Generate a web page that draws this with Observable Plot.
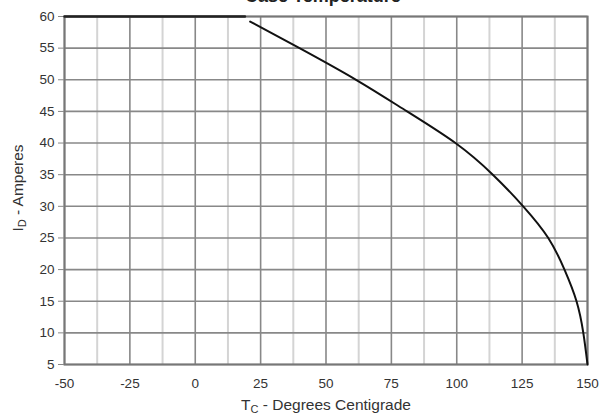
<!DOCTYPE html>
<html><head><meta charset="utf-8">
<script src="https://cdn.jsdelivr.net/npm/d3@7"></script>
<script src="https://cdn.jsdelivr.net/npm/@observablehq/plot@0.6"></script>
<style>
body{margin:0;background:#fff;}
#wrap{position:relative;width:606px;height:419px;overflow:hidden;}
#title{position:absolute;left:245px;top:-14px;white-space:nowrap;font:bold 18px "Liberation Sans",Arial,sans-serif;color:#222;}
</style></head><body>
<div id="wrap"><div id="title">Case Temperature</div><div id="chart"></div></div>
<script>
const flatTemp = [-50, 19];
const flatCurrent = [60, 60];
const curveTemp = [21, 39, 61.5, 81, 99.5, 113.8, 125.4, 135, 141.2, 145.8, 148.4, 150];
const curveCurrent = [59.2, 55.2, 50, 45, 40, 35, 30, 25, 20, 15, 10, 5];
const xTicks = [-50, -25, 0, 25, 50, 75, 100, 125, 150];
const xMinor = [-37.5, -12.5, 12.5, 37.5, 62.5, 87.5, 112.5, 137.5];
const yTicks = [5, 10, 15, 20, 25, 30, 35, 40, 45, 50, 55, 60];

const flat = flatTemp.map((t, i) => ({t, a: flatCurrent[i]}));
const curve = curveTemp.map((t, i) => ({t, a: curveCurrent[i]}));

const plot = Plot.plot({
  width: 606, height: 419,
  marginLeft: 64, marginRight: 19, marginTop: 16, marginBottom: 55,
  style: {fontFamily: "'Liberation Sans', Arial, sans-serif", fontSize: "13.5px", color: "#333", background: "#fff"},
  x: {domain: [-50, 150]},
  y: {domain: [5, 60]},
  marks: [
    Plot.ruleX(xMinor, {stroke: "#d4d4d4", strokeWidth: 2}),
    Plot.ruleX(xTicks, {stroke: "#888", strokeWidth: 1.6}),
    Plot.ruleY(yTicks, {stroke: "#888", strokeWidth: 1.6}),
    Plot.frame({stroke: "#777", strokeWidth: 2}),
    Plot.axisX(xTicks, {tickSize: 0, tickPadding: 14, label: null, fill: "#333", fontSize: 13.5, tickFormat: d => String(d)}),
    Plot.axisY(yTicks, {tickSize: 6, tickPadding: 4, label: null, stroke: "#888", fill: "#333", fontSize: 13.5, tickFormat: d => String(d)}),
    Plot.line(flat, {x: "t", y: "a", stroke: "#222", strokeWidth: 2.5}),
    Plot.line(curve, {x: "t", y: "a", stroke: "#111", strokeWidth: 2, curve: "natural"})
  ]
});
document.getElementById("chart").appendChild(plot);

const svg = d3.select(plot);
const xt = svg.append("text").attr("x", 326).attr("y", 410).attr("text-anchor", "middle")
  .style("font", "15.5px 'Liberation Sans', Arial, sans-serif").attr("fill", "#333");
xt.append("tspan").text("T");
xt.append("tspan").attr("dy", 3).style("font-size", "11px").text("C");
xt.append("tspan").attr("dy", -3).text(" - Degrees Centigrade");

const yt = svg.append("text").attr("transform", "translate(23,188) rotate(-90)").attr("text-anchor", "middle")
  .style("font", "15.5px 'Liberation Sans', Arial, sans-serif").attr("fill", "#333");
yt.append("tspan").text("I");
yt.append("tspan").attr("dy", 3).style("font-size", "11px").text("D");
yt.append("tspan").attr("dy", -3).text(" - Amperes");
</script>
</body></html>
